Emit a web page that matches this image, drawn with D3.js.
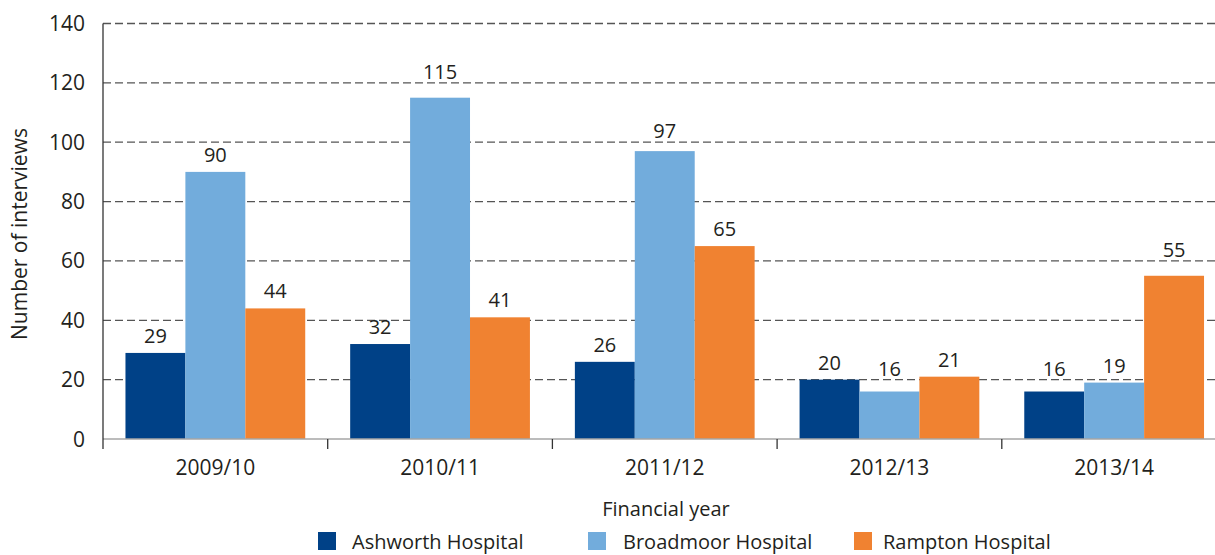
<!DOCTYPE html>
<html>
<head>
<meta charset="utf-8">
<script src="https://cdn.jsdelivr.net/npm/d3@7"></script>
<style>
  html, body { margin: 0; padding: 0; background: #fff; }
  svg { display: block; font-family: "Open Sans", "Noto Sans", sans-serif; }
</style>
</head>
<body>
<svg id="chart" width="1215" height="555"></svg>
<script>
const categories = ["2009/10", "2010/11", "2011/12", "2012/13", "2013/14"];
const seriesNames = ["Ashworth Hospital", "Broadmoor Hospital", "Rampton Hospital"];
const ashworth = [29, 32, 26, 20, 16];
const broadmoor = [90, 115, 97, 16, 19];
const rampton = [44, 41, 65, 21, 55];
const yTicks = [0, 20, 40, 60, 80, 100, 120, 140];
const colors = ["#004187", "#72acdc", "#f08231"];

(function () {
const series = [ashworth, broadmoor, rampton];
const svg = d3.select("#chart");
const textColor = "#231f20";

const pLeft = 103, pRight = 1226.5, pTop = 23.5, pBottom = 439;

const x = d3.scaleBand().domain(categories).range([pLeft, pRight]).padding(0);
const innerW = x.bandwidth() * 0.8;
const innerOff = x.bandwidth() * 0.1;
const x1 = d3.scaleBand().domain(seriesNames).range([innerOff, innerOff + innerW]).padding(0);

const y = d3.scaleLinear().domain([0, 140]).range([pBottom, pTop]);

// gridlines (dashed)
svg.append("g").selectAll("line").data(yTicks.filter(d => d > 0)).join("line")
  .attr("x1", pLeft).attr("x2", 1215)
  .attr("y1", d => y(d)).attr("y2", d => y(d))
  .attr("stroke", "#555").attr("stroke-width", 1.3)
  .attr("stroke-dasharray", "8,4");

// bars
const groups = svg.append("g").selectAll("g").data(categories).join("g")
  .attr("transform", c => `translate(${x(c)},0)`);

groups.selectAll("rect").data((c, i) => seriesNames.map((s, j) => ({ s, j, v: series[j][i] })))
  .join("rect")
  .attr("x", d => x1(d.s)).attr("width", x1.bandwidth())
  .attr("y", d => y(d.v)).attr("height", d => y(0) - y(d.v))
  .attr("fill", d => colors[d.j]);

// value label placement: keep labels off the dashed gridlines
const gridYs = yTicks.filter(d => d > 0).map(d => y(d));
function labelY(v) {
  let b = y(v) - 10;
  for (const g of gridYs) {
    if (g > b - 12 && g < b + 3) b = g - 4;
  }
  return b;
}

groups.selectAll("text").data((c, i) => seriesNames.map((s, j) => ({ s, j, v: series[j][i] })))
  .join("text")
  .attr("x", d => x1(d.s) + x1.bandwidth() / 2)
  .attr("y", d => labelY(d.v))
  .attr("text-anchor", "middle")
  .attr("font-size", 20)
  .attr("fill", textColor)
  .text(d => d.v);

// x baseline
svg.append("line").attr("x1", pLeft).attr("x2", 1215)
  .attr("y1", pBottom).attr("y2", pBottom)
  .attr("stroke", "#a6a6a6").attr("stroke-width", 1.5);

// x category separator ticks
const sepX = categories.map(c => x(c) + x.bandwidth());
svg.append("g").selectAll("line").data(sepX).join("line")
  .attr("x1", d => d).attr("x2", d => d)
  .attr("y1", pBottom).attr("y2", pBottom + 10)
  .attr("stroke", "#333").attr("stroke-width", 1.3);

// y axis line
svg.append("line").attr("x1", pLeft).attr("x2", pLeft)
  .attr("y1", pTop).attr("y2", pBottom + 10)
  .attr("stroke", "#333").attr("stroke-width", 1.3);

// y tick labels
svg.append("g").selectAll("text").data(yTicks).join("text")
  .attr("x", 85).attr("y", d => y(d) + 7.5)
  .attr("text-anchor", "end").attr("font-size", 21).attr("fill", textColor)
  .text(d => d);

// x tick labels
svg.append("g").selectAll("text").data(categories).join("text")
  .attr("x", c => x(c) + x.bandwidth() / 2).attr("y", 475)
  .attr("text-anchor", "middle").attr("font-size", 21).attr("fill", textColor)
  .text(c => c);

// axis titles
svg.append("text").attr("x", 666).attr("y", 516)
  .attr("text-anchor", "middle").attr("font-size", 20).attr("fill", textColor)
  .text("Financial year");

svg.append("text").attr("transform", "translate(27,234) rotate(-90)")
  .attr("text-anchor", "middle").attr("font-size", 21).attr("fill", textColor)
  .text("Number of interviews");

// legend
const legendX = [318, 588, 854];
const leg = svg.append("g").selectAll("g").data(seriesNames).join("g")
  .attr("transform", (d, i) => `translate(${legendX[i]},532)`);
leg.append("rect").attr("width", 18).attr("height", 18).attr("fill", (d, i) => colors[i]);
leg.append("text").attr("x", (d, i) => [34, 35, 29][i]).attr("y", 17)
  .attr("font-size", 20).attr("fill", textColor).text(d => d);
})();
</script>
</body>
</html>
